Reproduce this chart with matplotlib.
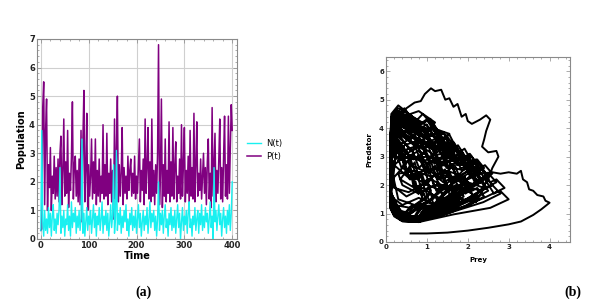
import matplotlib
matplotlib.use("Agg")
import matplotlib.pyplot as plt
from matplotlib.ticker import MultipleLocator

# ---------------- data: panel (a) time series (t = 0, 2, ..., 400) ----------------
time = list(range(0, 401, 2))
prey_t = [
    0.3, 3.8, 0.6, 0.1, 1.0, 0.3, 0.7, 0.2, 1.1, 0.4, 0.9, 0.1, 0.8, 1.2, 0.3, 0.7, 0.2, 0.9, 0.5, 1.0,
    2.5, 0.2, 0.8, 0.4, 1.0, 0.1, 0.7, 0.5, 1.2, 0.3, 0.8, 0.1, 1.3, 0.4, 0.9, 0.6, 1.1, 0.2, 0.8, 0.4,
    1.0, 0.3, 0.7, 3.5, 0.2, 0.9, 0.1, 0.6, 1.1, 0.3, 0.8, 0.5, 1.0, 0.2, 0.7, 1.2, 0.4, 0.9, 0.1, 0.8,
    0.5, 1.1, 0.3, 0.7, 1.3, 0.2, 0.8, 0.5, 1.0, 0.3, 0.9, 0.1, 0.6, 1.2, 0.4, 0.8, 2.6, 0.2, 0.7, 3.1,
    0.3, 0.9, 0.5, 1.1, 0.2, 0.8, 0.4, 1.0, 0.6, 1.2, 0.3, 0.7, 0.1, 0.9, 0.5, 1.1, 0.3, 0.8, 0.4, 1.0,
    0.2, 0.7, 1.2, 0.4, 0.9, 0.1, 0.6, 1.0, 0.3, 0.8, 0.5, 1.1, 0.2, 0.7, 1.3, 0.4, 0.9, 0.6, 1.0, 0.3,
    0.8, 0.1, 0.7, 2.0, 0.3, 0.9, 0.5, 1.0, 0.2, 0.8, 1.2, 0.4, 0.7, 0.1, 0.9, 0.5, 1.1, 0.3, 0.8, 0.4,
    1.0, 0.2, 0.7, 1.2, 0.4, 0.9, 0.0, 0.6, 1.1, 0.3, 0.8, 0.5, 1.0, 0.2, 0.9, 1.3, 0.4, 0.7, 0.1, 0.8,
    0.5, 1.1, 0.3, 0.7, 1.0, 0.2, 0.9, 0.5, 1.2, 0.3, 0.8, 0.4, 1.1, 0.6, 0.9, 0.2, 0.7, 1.3, 0.4, 0.8,
    0.0, 2.5, 0.6, 1.0, 0.3, 0.8, 1.2, 0.5, 0.9, 0.1, 0.7, 1.1, 0.4, 0.8, 0.2, 1.0, 0.5, 1.2, 0.3, 0.9, 2.0,
]
pred_t = [
    0.3, 0.35, 4.6, 5.5, 1.2, 3.8, 4.9, 1.0, 2.6, 1.8, 3.2, 1.0, 2.2, 1.6, 2.9, 1.4, 2.5, 1.5, 2.8, 1.3,
    3.0, 3.6, 1.2, 2.4, 4.2, 1.5, 2.7, 1.6, 3.8, 1.1, 2.3, 1.7, 2.9, 4.8, 1.4, 2.6, 2.9, 1.5, 2.4, 1.3,
    2.8, 1.2, 3.8, 0.6, 3.5, 5.2, 1.3, 2.4, 4.4, 1.0, 2.6, 1.5, 2.2, 3.5, 1.4, 2.7, 1.6, 3.5, 1.2, 2.4,
    1.5, 2.8, 1.3, 2.2, 1.6, 4.0, 1.4, 2.6, 1.5, 3.7, 1.2, 2.3, 1.6, 2.8, 1.3, 2.4, 0.7, 4.2, 1.4, 3.0,
    5.0, 1.3, 2.6, 1.5, 2.3, 3.9, 1.2, 2.5, 1.6, 2.2, 1.4, 2.9, 1.7, 2.4, 2.8, 1.5, 2.3, 1.6, 2.9, 1.4,
    2.2, 1.6, 2.6, 3.5, 1.3, 2.4, 1.7, 2.8, 1.2, 4.2, 1.6, 2.5, 3.9, 1.4, 2.7, 1.3, 4.2, 1.5, 2.4, 1.2,
    2.6, 1.6, 3.0, 6.8, 1.2, 2.3, 4.9, 1.1, 2.6, 1.5, 3.5, 1.3, 2.4, 1.6, 4.1, 1.3, 2.7, 1.5, 3.9, 1.4,
    2.5, 3.4, 1.3, 2.2, 1.6, 2.8, 1.4, 4.0, 1.5, 2.6, 3.9, 1.3, 2.4, 1.6, 2.9, 1.2, 3.8, 1.5, 2.5, 1.4,
    4.4, 1.3, 2.6, 4.1, 1.5, 2.3, 1.7, 2.8, 1.4, 2.2, 3.0, 1.6, 2.5, 1.2, 2.7, 3.5, 1.4, 2.3, 1.1, 4.6,
    1.5, 2.6, 3.7, 1.3, 2.4, 1.6, 2.8, 4.2, 1.4, 2.5, 1.3, 2.9, 4.3, 1.5, 2.6, 1.4, 4.3, 1.6, 3.2, 4.7, 3.8,
]

# ---------------- data: panel (b) phase portrait (prey, predator) ----------------
phase_prey = [
    0.60, 1.00, 1.50, 2.00, 2.50, 3.00, 3.30, 3.60, 3.80, 4.00, 3.90, 3.85, 3.70, 3.60, 3.50, 3.45, 3.35, 3.30,
    3.20, 3.00, 2.80, 2.60, 2.30, 1.80, 1.30, 0.80, 0.40, 0.20, 0.12,
    0.10, 0.20, 0.40, 0.80, 1.21, 1.87, 2.20, 2.05, 1.94, 1.76, 1.63, 1.41, 1.28, 0.99, 0.84, 0.30, 0.13, 0.10,
    0.10, 0.20, 0.40, 0.80, 0.88, 1.36, 1.60, 1.49, 1.41, 1.28, 1.18, 1.02, 0.93, 0.72, 0.61, 0.30, 0.13, 0.10,
    0.10, 0.20, 0.40, 0.80, 1.38, 2.13, 2.50, 2.33, 2.20, 2.00, 1.85, 1.60, 1.45, 1.13, 0.95, 0.30, 0.13, 0.10,
    0.10, 0.20, 0.40, 0.55, 0.75, 1.02, 1.20, 1.12, 1.06, 0.96, 0.89, 0.77, 0.70, 0.54, 0.46, 0.30, 0.13, 0.10,
    0.15, 0.50, 0.90, 1.30, 1.70, 2.10, 1.80, 1.40, 1.00, 0.60, 0.20, 0.50, 0.90, 1.30, 1.60, 1.90, 1.50, 1.10, 0.70, 0.30, 0.15,
    0.10, 0.20, 0.40, 0.80, 1.10, 1.70, 2.00, 1.86, 1.76, 1.60, 1.48, 1.28, 1.16, 0.90, 0.76, 0.30, 0.13, 0.10,
    0.10, 0.20, 0.40, 0.80, 1.54, 2.38, 2.80, 2.60, 2.46, 2.24, 2.07, 1.79, 1.62, 1.26, 1.06, 0.30, 0.13, 0.10,
    0.10, 0.20, 0.40, 0.60, 0.77, 1.19, 1.40, 1.30, 1.23, 1.12, 1.04, 0.90, 0.81, 0.63, 0.53, 0.30, 0.13, 0.10,
    0.10, 0.20, 0.40, 0.80, 1.27, 1.96, 2.30, 2.14, 2.02, 1.84, 1.70, 1.47, 1.33, 1.04, 0.87, 0.30, 0.13, 0.10,
    0.10, 0.20, 0.40, 0.80, 0.99, 1.53, 1.80, 1.67, 1.58, 1.44, 1.33, 1.15, 1.04, 0.81, 0.68, 0.30, 0.13, 0.10,
    0.20, 0.60, 1.00, 1.40, 1.80, 2.20, 2.40, 2.00, 1.60, 1.20, 0.80, 0.40, 0.30, 0.70, 1.10, 1.50, 1.90, 2.20, 1.80, 1.40, 1.00, 0.60, 0.25,
    0.10, 0.20, 0.40, 0.80, 1.43, 2.21, 2.60, 2.42, 2.29, 2.08, 1.92, 1.66, 1.51, 1.17, 0.99, 0.30, 0.13, 0.10,
    0.10, 0.20, 0.35, 0.50, 0.65, 0.85, 1.00, 0.93, 0.88, 0.80, 0.74, 0.64, 0.58, 0.45, 0.38, 0.28, 0.13, 0.10,
    0.10, 0.20, 0.40, 0.80, 1.16, 1.79, 2.10, 1.95, 1.85, 1.68, 1.55, 1.34, 1.22, 0.95, 0.80, 0.30, 0.13, 0.10,
    0.10, 0.30, 0.70, 1.40, 2.20, 2.50, 2.60, 2.75, 2.70, 2.50, 2.35, 2.40, 2.45, 2.55, 2.45, 2.30,
    2.10, 2.00, 1.95, 1.85, 1.75, 1.65, 1.55, 1.45, 1.35, 1.20, 1.10, 0.95, 0.85, 0.70, 0.50, 0.30, 0.15,
    0.12, 0.40, 0.80, 1.20, 1.60, 2.00, 2.30, 1.90, 1.50, 1.10, 0.70, 0.35, 0.60, 1.00, 1.40, 1.80, 2.10, 1.70,
    1.20, 0.80, 0.40, 0.25, 0.60, 0.90, 1.20, 0.80, 0.40, 0.12,
    0.10, 0.20, 0.40, 0.80, 1.65, 2.55, 3.00, 2.79, 2.64, 2.40, 2.22, 1.92, 1.74, 1.35, 1.14, 0.30, 0.13, 0.10,
    0.10, 0.20, 0.40, 0.70, 0.83, 1.28, 1.50, 1.40, 1.32, 1.20, 1.11, 0.96, 0.87, 0.68, 0.57, 0.30, 0.13, 0.10,
    0.10, 0.20, 0.40, 0.80, 1.32, 2.04, 2.40, 2.23, 2.11, 1.92, 1.78, 1.54, 1.39, 1.08, 0.91, 0.30, 0.13, 0.10,
    0.20, 0.50, 0.80, 1.10, 1.30, 1.00, 0.70, 0.40, 0.20, 0.50, 0.70, 0.90, 1.20, 1.50, 1.70, 2.00, 2.30, 2.00, 1.60, 1.20, 0.80, 0.40, 0.15,
    0.10, 0.20, 0.40, 0.80, 0.94, 1.45, 1.70, 1.58, 1.50, 1.36, 1.26, 1.09, 0.99, 0.77, 0.65, 0.30, 0.13, 0.10,
    0.10, 0.20, 0.40, 0.80, 1.49, 2.30, 2.70, 2.51, 2.38, 2.16, 2.00, 1.73, 1.57, 1.22, 1.03, 0.30, 0.13, 0.10,
    0.10, 0.20, 0.40, 0.60, 0.75, 1.11, 1.30, 1.21, 1.14, 1.04, 0.96, 0.83, 0.75, 0.59, 0.49, 0.30, 0.13, 0.10,
    0.10, 0.20, 0.40, 0.80, 1.21, 1.87, 2.20, 2.05, 1.94, 1.76, 1.63, 1.41, 1.28, 0.99, 0.84, 0.30, 0.13, 0.10,
    0.20, 0.55, 0.95, 1.35, 1.75, 2.15, 2.50, 2.20, 1.85, 1.45, 1.05, 0.65, 0.30, 0.45, 0.85, 1.25, 1.55, 1.15, 0.75, 0.45, 0.20, 0.12,
    0.10, 0.20, 0.40, 0.80, 1.05, 1.62, 1.90, 1.77, 1.67, 1.52, 1.41, 1.22, 1.10, 0.86, 0.72, 0.30, 0.13, 0.10,
    0.10, 0.20, 0.40, 0.80, 1.38, 2.13, 2.50, 2.33, 2.20, 2.00, 1.85, 1.60, 1.45, 1.13, 0.95, 0.30, 0.13, 0.10,
    0.10, 0.20, 0.35, 0.55, 0.70, 0.94, 1.10, 1.02, 0.97, 0.88, 0.81, 0.70, 0.64, 0.50, 0.42, 0.28, 0.13, 0.10,
    0.10, 0.20, 0.40, 0.80, 1.10, 1.70, 2.00, 1.86, 1.76, 1.60, 1.48, 1.28, 1.16, 0.90, 0.76, 0.30, 0.13, 0.10,
    0.30, 0.70, 1.10, 1.50, 1.90, 2.30, 2.00, 1.70, 1.30, 0.90, 0.50, 0.40, 0.80, 1.20, 1.60, 1.30, 0.90, 0.50, 0.30, 0.60, 0.20, 0.12,
    0.10, 0.20, 0.40, 0.80, 1.60, 2.47, 2.90, 2.70, 2.55, 2.32, 2.15, 1.86, 1.68, 1.31, 1.10, 0.30, 0.13, 0.10,
    0.10, 0.20, 0.40, 0.70, 0.88, 1.36, 1.60, 1.49, 1.41, 1.28, 1.18, 1.02, 0.93, 0.72, 0.61, 0.30, 0.13, 0.10,
    0.10, 0.20, 0.40, 0.80, 1.32, 2.04, 2.40, 2.23, 2.11, 1.92, 1.78, 1.54, 1.39, 1.08, 0.91, 0.30, 0.13, 0.10,
    0.10, 0.20, 0.32, 0.48, 0.62, 0.77, 0.90, 0.84, 0.79, 0.72, 0.67, 0.58, 0.52, 0.41, 0.34, 0.25, 0.13, 0.10,
    0.10, 0.20, 0.40, 0.80, 1.21, 1.87, 2.20, 2.05, 1.94, 1.76, 1.63, 1.41, 1.28, 0.99, 0.84, 0.30, 0.13, 0.10,
    0.10, 0.20, 0.40, 0.80, 0.99, 1.53, 1.80, 1.67, 1.58, 1.44, 1.33, 1.15, 1.04, 0.81, 0.68, 0.30, 0.13, 0.10,
    0.10, 0.20, 0.40, 0.80, 1.43, 2.21, 2.60, 2.42, 2.29, 2.08, 1.92, 1.66, 1.51, 1.17, 0.99, 0.30, 0.13, 0.10,
    0.10,
]
phase_pred = [
    0.30, 0.30, 0.33, 0.40, 0.50, 0.62, 0.72, 0.95, 1.15, 1.38, 1.45, 1.60, 1.65, 1.80, 1.85, 2.10, 2.20, 2.50,
    2.40, 2.45, 2.40, 2.45, 2.40, 2.80, 3.30, 3.90, 4.30, 4.10, 3.00,
    1.30, 1.00, 0.78, 0.75, 1.01, 1.20, 1.50, 1.80, 1.70, 2.33, 2.18, 3.00, 2.85, 3.68, 3.53, 4.20, 3.90, 2.70,
    1.50, 1.20, 0.88, 0.85, 1.07, 1.12, 1.30, 1.60, 1.50, 2.08, 1.93, 2.70, 2.55, 3.33, 3.18, 3.80, 3.50, 2.30,
    1.20, 0.90, 0.73, 0.70, 1.02, 1.50, 1.80, 2.10, 2.00, 2.65, 2.50, 3.35, 3.20, 4.05, 3.90, 4.60, 4.30, 3.10,
    1.60, 1.30, 0.98, 0.95, 1.14, 1.19, 1.20, 1.50, 1.40, 1.85, 1.70, 2.35, 2.20, 2.85, 2.70, 3.20, 2.90, 1.90,
    2.00, 1.60, 1.90, 1.50, 2.00, 1.70, 2.40, 2.10, 2.60, 2.20, 2.70, 3.10, 2.80, 3.20, 2.70, 3.00, 3.50, 3.30, 3.70, 3.40, 2.50,
    1.40, 1.10, 0.83, 0.80, 1.13, 1.70, 2.00, 2.30, 2.20, 2.75, 2.60, 3.35, 3.20, 3.95, 3.80, 4.40, 4.10, 2.90,
    1.25, 0.95, 0.75, 0.72, 1.02, 1.40, 1.70, 2.00, 1.90, 2.43, 2.28, 3.00, 2.85, 3.58, 3.43, 4.00, 3.70, 2.50,
    1.70, 1.40, 1.03, 1.00, 1.24, 1.30, 1.60, 1.90, 1.80, 2.25, 2.10, 2.75, 2.60, 3.25, 3.10, 3.60, 3.30, 2.10,
    1.35, 1.05, 0.81, 0.78, 1.14, 1.90, 2.20, 2.50, 2.40, 3.00, 2.85, 3.65, 3.50, 4.30, 4.15, 4.80, 4.50, 3.30,
    1.55, 1.25, 0.93, 0.90, 1.13, 1.18, 1.40, 1.70, 1.60, 2.05, 1.90, 2.55, 2.40, 3.05, 2.90, 3.40, 3.10, 1.90,
    1.30, 1.20, 1.40, 1.25, 1.50, 1.40, 1.90, 2.10, 1.80, 2.00, 1.70, 2.00, 2.40, 2.50, 2.30, 2.50, 2.30, 2.60, 2.90, 2.80, 3.00, 2.90, 3.20,
    1.30, 1.00, 0.78, 0.75, 1.15, 2.10, 2.40, 2.70, 2.60, 3.03, 2.88, 3.50, 3.35, 3.98, 3.83, 4.30, 4.00, 2.80,
    1.80, 1.50, 1.08, 1.05, 1.25, 1.30, 1.40, 1.70, 1.60, 1.95, 1.80, 2.35, 2.20, 2.75, 2.60, 3.00, 2.70, 1.90,
    1.40, 1.10, 0.83, 0.80, 1.12, 1.60, 1.90, 2.20, 2.10, 2.70, 2.55, 3.35, 3.20, 4.00, 3.85, 4.50, 4.20, 3.00,
    1.40, 0.85, 0.78, 1.00, 1.60, 2.20, 2.60, 3.00, 3.20, 3.15, 3.35, 3.60, 3.90, 4.30, 4.45, 4.30,
    4.15, 4.25, 4.50, 4.40, 4.85, 4.75, 5.05, 5.00, 5.35, 5.30, 5.40, 5.20, 4.95, 4.90, 4.70, 4.40, 3.50,
    1.60, 1.30, 1.55, 1.30, 1.65, 1.45, 1.80, 2.00, 1.90, 2.20, 1.90, 2.20, 2.70, 2.45, 2.70, 2.55, 2.80, 3.20,
    3.05, 3.40, 3.20, 3.70, 4.00, 3.70, 4.20, 4.60, 4.40, 3.40,
    1.25, 0.95, 0.73, 0.70, 0.97, 1.20, 1.50, 1.80, 1.70, 2.25, 2.10, 2.85, 2.70, 3.45, 3.30, 3.90, 3.60, 2.40,
    1.50, 1.20, 0.93, 0.90, 1.22, 1.70, 2.00, 2.30, 2.20, 2.68, 2.53, 3.20, 3.05, 3.73, 3.58, 4.10, 3.80, 2.60,
    1.35, 1.05, 0.83, 0.80, 1.22, 2.30, 2.60, 2.90, 2.80, 3.28, 3.13, 3.80, 3.65, 4.33, 4.18, 4.70, 4.40, 3.20,
    3.60, 3.90, 3.50, 3.80, 3.50, 4.10, 4.30, 4.10, 4.40, 4.60, 4.20, 4.50, 4.00, 3.70, 3.30, 2.90, 2.40, 2.20, 2.30, 2.60, 2.30, 2.60, 2.20,
    1.60, 1.30, 0.91, 0.88, 1.15, 1.40, 1.70, 2.00, 1.90, 2.35, 2.20, 2.85, 2.70, 3.35, 3.20, 3.70, 3.40, 2.20,
    1.30, 1.00, 0.76, 0.73, 1.09, 1.80, 2.10, 2.40, 2.30, 2.78, 2.63, 3.30, 3.15, 3.83, 3.68, 4.20, 3.90, 2.70,
    1.70, 1.40, 1.03, 1.00, 1.20, 1.25, 1.30, 1.60, 1.50, 1.95, 1.80, 2.45, 2.30, 2.95, 2.80, 3.30, 3.00, 2.00,
    1.40, 1.10, 0.85, 0.82, 1.27, 2.50, 2.80, 3.10, 3.00, 3.40, 3.25, 3.85, 3.70, 4.30, 4.15, 4.60, 4.30, 3.10,
    1.90, 1.75, 2.05, 1.80, 2.15, 1.95, 2.30, 2.90, 2.70, 3.00, 2.75, 3.05, 2.85, 3.40, 3.60, 3.35, 3.80, 4.00, 4.00, 4.70, 4.30, 2.60,
    1.50, 1.20, 0.88, 0.85, 1.11, 1.30, 1.60, 1.90, 1.80, 2.35, 2.20, 2.95, 2.80, 3.55, 3.40, 4.00, 3.70, 2.50,
    1.30, 1.00, 0.79, 0.76, 1.14, 2.00, 2.30, 2.60, 2.50, 2.98, 2.83, 3.50, 3.35, 4.03, 3.88, 4.40, 4.10, 2.90,
    1.75, 1.45, 1.03, 1.00, 1.27, 1.50, 1.80, 2.10, 2.00, 2.38, 2.23, 2.80, 2.65, 3.23, 3.08, 3.50, 3.20, 2.20,
    1.40, 1.10, 0.83, 0.80, 1.21, 2.20, 2.50, 2.80, 2.70, 3.10, 2.95, 3.55, 3.40, 4.00, 3.85, 4.30, 4.00, 2.80,
    1.50, 1.30, 1.70, 1.40, 1.80, 2.10, 2.50, 2.20, 2.40, 2.10, 2.40, 2.90, 3.20, 2.90, 3.10, 3.60, 3.90, 3.60, 3.90, 4.40, 4.20, 3.00,
    1.25, 0.95, 0.75, 0.72, 1.05, 1.60, 1.90, 2.20, 2.10, 2.60, 2.45, 3.15, 3.00, 3.70, 3.55, 4.10, 3.80, 2.60,
    1.45, 1.15, 0.88, 0.85, 1.20, 1.90, 2.20, 2.50, 2.40, 2.90, 2.75, 3.45, 3.30, 4.00, 3.85, 4.40, 4.10, 2.90,
    1.30, 1.00, 0.77, 0.74, 1.02, 1.30, 1.60, 1.90, 1.80, 2.30, 2.15, 2.85, 2.70, 3.40, 3.25, 3.80, 3.50, 2.30,
    1.80, 1.50, 1.08, 1.05, 1.27, 1.30, 1.50, 1.80, 1.70, 2.13, 1.98, 2.60, 2.45, 3.08, 2.93, 3.40, 3.10, 2.10,
    1.35, 1.05, 0.82, 0.79, 1.18, 2.10, 2.40, 2.70, 2.60, 3.08, 2.93, 3.60, 3.45, 4.13, 3.98, 4.50, 4.20, 3.00,
    1.50, 1.20, 0.89, 0.86, 1.17, 1.60, 1.90, 2.20, 2.10, 2.55, 2.40, 3.05, 2.90, 3.55, 3.40, 3.90, 3.60, 2.40,
    1.30, 1.00, 0.77, 0.74, 1.08, 1.70, 2.00, 2.30, 2.20, 2.80, 2.65, 3.45, 3.30, 4.10, 3.95, 4.60, 4.30, 3.10,
    1.30,
]

series_labels = ["N(t)", "P(t)"]
series_colors = ["#19f0f0", "#800080"]

# ---------------- figure ----------------
fig = plt.figure(figsize=(6.04, 3.05), dpi=100)
frame_col = "#8a8a8a"

def style_frame(ax, fs):
    for s in ax.spines.values():
        s.set_color(frame_col)
        s.set_linewidth(0.8)
    ax.tick_params(which="both", direction="in", top=True, right=True,
                   color=frame_col, width=0.5)
    ax.tick_params(which="major", length=3, labelsize=fs, pad=1.5)
    ax.tick_params(which="minor", length=1.5)
    for lab in ax.get_xticklabels() + ax.get_yticklabels():
        lab.set_fontweight("bold")
        lab.set_color("#222222")

# panel (a)
ax1 = fig.add_axes([37/604, 66/305, 200/604, 200/305])
ax1.plot(time, pred_t, color=series_colors[1], lw=1.1, label=series_labels[1], zorder=2)
ax1.plot(time, prey_t, color=series_colors[0], lw=1.0, label=series_labels[0], zorder=3)
ax1.set_xlim(-8, 410)
ax1.set_ylim(0, 7)
ax1.set_xticks([0, 100, 200, 300, 400])
ax1.set_yticks(range(0, 8))
ax1.xaxis.set_minor_locator(MultipleLocator(20))
ax1.yaxis.set_minor_locator(MultipleLocator(0.2))
ax1.grid(True, which="major", color="#cfcfcf", lw=0.8, zorder=0)
ax1.set_axisbelow(True)
style_frame(ax1, 6)
ax1.set_xlabel("Time", fontsize=7, fontweight="bold", labelpad=1)
ax1.set_ylabel("Population", fontsize=7, fontweight="bold", labelpad=2)
h, l = ax1.get_legend_handles_labels()
leg = fig.legend([h[1], h[0]], [l[1], l[0]], loc="center left",
                 bbox_to_anchor=(240/604, 1 - 150/305), frameon=False,
                 fontsize=6, handlelength=1.6, handletextpad=0.6, labelspacing=0.5)

# panel (b)
ax2 = fig.add_axes([386/604, 63/305, 184/604, 185/305])
ax2.plot(phase_prey, phase_pred, color="black", lw=1.4)
ax2.set_xlim(0, 4.5)
ax2.set_ylim(0, 6.5)
ax2.set_xticks([0, 1, 2, 3, 4])
ax2.set_yticks([0, 1, 2, 3, 4, 5, 6])
ax2.xaxis.set_minor_locator(MultipleLocator(0.2))
ax2.yaxis.set_minor_locator(MultipleLocator(0.2))
style_frame(ax2, 5)
ax2.set_xlabel("Prey", fontsize=5, fontweight="bold", labelpad=5)
ax2.set_ylabel("Predator", fontsize=5, fontweight="bold", labelpad=5)

fig.text(143/604, 1 - 292/305, "(a)", fontsize=10, fontweight="bold",
         family="Liberation Serif", ha="center", va="center")
fig.text(573/604, 1 - 292/305, "(b)", fontsize=10, fontweight="bold",
         family="Liberation Serif", ha="center", va="center")

fig.savefig("out.png", dpi=100)
